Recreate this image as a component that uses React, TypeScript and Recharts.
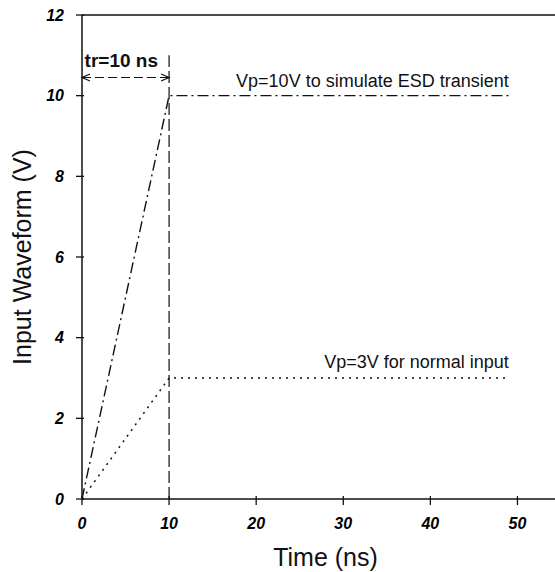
import { LineChart, Line, XAxis, YAxis, ReferenceLine, ReferenceDot, Label } from 'recharts'

const FONT = '"Liberation Sans", Arial, sans-serif'

// ESD-like input (Vp = 10 V) and normal input (Vp = 3 V), rise time 10 ns
const esdWave = [
  { t: 0, v: 0 },
  { t: 10, v: 10 },
  { t: 49, v: 10 },
]
const normalWave = [
  { t: 0, v: 0 },
  { t: 10, v: 3 },
  { t: 49, v: 3 },
]
const riseMarker = [
  { t: 10, v: 0 },
  { t: 10, v: 11 },
]
const xTicks = [0, 10, 20, 30, 40, 50]
const yTicks = [0, 2, 4, 6, 8, 10, 12]

const labelFont = { fontSize: 16, fontWeight: 700, fontStyle: 'italic', fill: '#000', fontFamily: FONT }
const X_GAP = 13
const Y_GAP = 12

// ticks point into the plot, so draw the little line ourselves
function XTick(props: any) {
  const { x, y, payload } = props
  const axisY = y - X_GAP
  return (
    <g>
      <line x1={x} y1={axisY} x2={x} y2={axisY - 9} stroke="#111" strokeWidth={1.3} />
      <text x={x} y={y} dy="0.71em" textAnchor="middle" {...labelFont}>
        {payload.value}
      </text>
    </g>
  )
}

function YTick(props: any) {
  const { x, y, payload } = props
  const axisX = x + Y_GAP
  return (
    <g>
      <line x1={axisX} y1={y} x2={axisX + 8} y2={y} stroke="#111" strokeWidth={1.3} />
      <text x={x} y={y} dy="0.355em" textAnchor="end" {...labelFont}>
        {payload.value}
      </text>
    </g>
  )
}

/** Dashed span with open arrowheads at both ends (the tr marker). */
function ArrowSpan(props: any) {
  const { x1, y1, x2, y2 } = props
  const h = 8
  const w = 3.5
  return (
    <g stroke="#111" strokeWidth={1.2} fill="none">
      <line x1={x1} y1={y1} x2={x2} y2={y2} strokeDasharray="9 4" />
      <polyline points={`${x1 + h},${y1 - w} ${x1},${y1} ${x1 + h},${y1 + w}`} />
      <polyline points={`${x2 - h},${y2 - w} ${x2},${y2} ${x2 - h},${y2 + w}`} />
    </g>
  )
}

function note(text: string, anchor: 'start' | 'end', size: number, weight = 400) {
  return (p: any) => (
    <text x={p.cx} y={p.cy} textAnchor={anchor} fontSize={size} fontWeight={weight} fontFamily={FONT} fill="#111">
      {text}
    </text>
  )
}

export default function App() {
  return (
    <div style={{ position: 'fixed', left: 0, top: 0, width: 555, height: 572, overflow: 'hidden', background: '#fff' }}>
      <LineChart width={580} height={572} margin={{ top: 15, right: 19, bottom: 0, left: 0 }}>
        <XAxis
          type="number"
          dataKey="t"
          domain={[0, 55]}
          ticks={xTicks}
          allowDataOverflow
          height={73}
          stroke="#111"
          strokeWidth={1.5}
          tickLine={false}
          tickMargin={X_GAP}
          tick={<XTick />}
        >
          <Label value="Time (ns)" position="insideBottom" offset={6} dx={4} fontSize={25} fontFamily={FONT} fill="#111" />
        </XAxis>
        <YAxis
          type="number"
          dataKey="v"
          domain={[0, 12]}
          ticks={yTicks}
          width={82}
          stroke="#111"
          strokeWidth={1.5}
          tickLine={false}
          tickMargin={Y_GAP}
          tick={<YTick />}
        >
          <Label
            value="Input Waveform (V)"
            angle={-90}
            position="insideLeft"
            offset={22}
            fontSize={25}
            fontFamily={FONT}
            fill="#111"
            style={{ textAnchor: 'middle' }}
          />
        </YAxis>
        <ReferenceLine y={12} stroke="#111" strokeWidth={1.5} />
        <ReferenceLine
          segment={[{ x: 0, y: 10.45 }, { x: 10, y: 10.45 }]}
          shape={ArrowSpan}
        />
        <Line
          data={riseMarker}
          dataKey="v"
          stroke="#111"
          strokeWidth={1.2}
          strokeDasharray="12 4"
          dot={false}
          isAnimationActive={false}
        />
        <Line
          data={esdWave}
          dataKey="v"
          stroke="#111"
          strokeWidth={1.4}
          strokeDasharray="11 4 2 4"
          dot={false}
          isAnimationActive={false}
        />
        <Line
          data={normalWave}
          dataKey="v"
          stroke="#111"
          strokeWidth={1.5}
          strokeDasharray="2 5"
          dot={false}
          isAnimationActive={false}
        />
        <ReferenceDot x={0.3} y={10.7} r={0} shape={note('tr=10 ns', 'start', 19, 700)} />
        <ReferenceDot x={49} y={10.22} r={0} shape={note('Vp=10V to simulate ESD transient', 'end', 18)} />
        <ReferenceDot x={49} y={3.25} r={0} shape={note('Vp=3V for normal input', 'end', 18)} />
      </LineChart>
    </div>
  )
}
